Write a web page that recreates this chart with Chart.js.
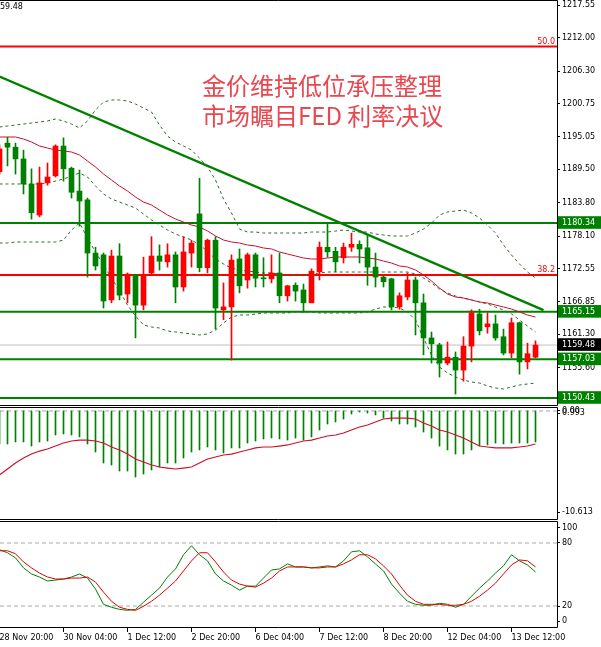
<!DOCTYPE html>
<html>
<head>
<meta charset="utf-8">
<script src="https://cdn.jsdelivr.net/npm/chart.js@4/dist/chart.umd.min.js"></script>
<style>
html, body { margin: 0; padding: 0; background: #fff; }
#wrap { position: relative; width: 601px; height: 647px; overflow: hidden; }
canvas { position: absolute; left: 0; }
#main { top: 0; }
#macd { top: 406px; }
#stoch { top: 521px; }
.note { position: absolute; left: 202px; color: #e9474f; font-family: "Noto Sans CJK SC"; font-size: 24px; line-height: 30px; white-space: nowrap; }
#info { position: absolute; left: 0; top: 2px; font: 8px "DejaVu Sans"; color: #000; }
</style>
</head>
<body>
<div id="wrap">
  <canvas id="main" width="601" height="406"></canvas>
  <canvas id="macd" width="601" height="115"></canvas>
  <canvas id="stoch" width="601" height="126"></canvas>
  <div id="info">59.48</div>
  <div class="note" style="top:70px">金价维持低位承压整理</div>
  <div class="note" style="top:100px">市场瞩目FED 利率决议</div>
</div>
<script>
// H4 bars, 28 Nov 20:00 .. 14 Dec 00:00
const open  = [1189.1,1194.0,1193.3,1191.3,1187.0,1181.7,1187.2,1188.4,1193.5,1189.7,1185.8,1184.3,1175.2,1174.9,1167.2,1174.7,1168.2,1171.5,1166.3,1171.8,1174.7,1173.7,1174.9,1169.4,1175.2,1181.9,1172.7,1177.4,1165.5,1166.0,1174.2,1170.6,1174.9,1170.9,1170.8,1171.8,1167.9,1169.7,1168.9,1166.7,1172.0,1176.2,1175.5,1174.4,1176.2,1176.7,1176.1,1172.8,1171.1,1170.8,1166.0,1167.7,1170.6,1166.7,1160.7,1159.5,1156.4,1157.4,1155.2,1159.3,1164.8,1162.6,1163.1,1160.9,1158.1,1163.3,1156.6,1157.4];
const high  = [1193.7,1195.0,1194.0,1192.8,1189.6,1189.9,1190.6,1193.7,1194.9,1189.9,1189.4,1184.6,1176.2,1175.2,1175.7,1176.8,1171.8,1171.6,1174.5,1178.0,1176.6,1176.8,1175.4,1178.0,1177.4,1188.0,1177.6,1178.0,1170.1,1174.9,1175.9,1175.2,1175.2,1174.4,1174.9,1175.2,1169.7,1170.1,1169.9,1172.5,1177.1,1180.3,1176.2,1176.9,1178.6,1177.3,1178.3,1175.2,1171.3,1170.9,1168.4,1171.8,1171.1,1168.2,1161.7,1159.8,1160.0,1158.3,1160.9,1165.5,1165.6,1165.0,1164.6,1162.2,1164.1,1163.4,1159.8,1160.2];
const low   = [1188.6,1190.1,1188.7,1185.3,1181.0,1181.4,1186.8,1188.2,1187.5,1184.6,1179.8,1171.1,1172.3,1165.8,1166.7,1167.2,1166.7,1160.7,1165.5,1171.5,1172.3,1172.8,1166.7,1168.7,1172.8,1172.0,1171.8,1162.2,1163.8,1156.9,1168.4,1169.2,1169.4,1169.4,1170.1,1166.7,1167.0,1167.0,1165.1,1166.7,1170.6,1174.5,1172.0,1173.5,1175.5,1173.5,1169.7,1169.4,1169.4,1165.5,1165.6,1167.2,1161.2,1157.8,1156.4,1154.0,1156.1,1151.1,1153.3,1156.6,1161.2,1161.5,1160.3,1157.8,1157.3,1154.5,1155.4,1157.3];
const close = [1193.0,1193.3,1191.3,1187.0,1182.1,1187.2,1188.2,1193.5,1189.6,1185.6,1184.1,1175.2,1173.0,1167.0,1174.7,1168.0,1171.6,1166.3,1171.5,1174.7,1173.8,1174.9,1169.4,1175.4,1176.9,1172.7,1177.4,1165.8,1166.0,1174.0,1169.6,1174.9,1170.9,1170.8,1171.8,1167.9,1169.6,1168.7,1166.7,1172.1,1176.2,1175.4,1173.7,1176.2,1176.7,1175.9,1172.8,1171.1,1170.3,1166.0,1167.9,1170.6,1166.7,1160.7,1159.7,1156.4,1157.4,1155.2,1159.3,1165.0,1161.9,1163.1,1160.7,1158.1,1163.3,1156.6,1158.0,1159.48];

// bands and moving average
const upperBand = [1196.75,1196.92,1197.09,1197.26,1197.43,1197.61,1197.78,1198.12,1197.78,1197.26,1196.58,1197.78,1199.66,1201.02,1201.37,1201.37,1201.20,1200.68,1200.00,1199.31,1197.09,1195.21,1194.19,1193.50,1192.82,1191.45,1189.91,1187.69,1184.44,1182.05,1179.31,1178.80,1178.80,1178.63,1178.63,1178.63,1178.63,1178.63,1178.63,1178.80,1178.80,1178.80,1178.97,1179.14,1178.97,1178.80,1178.80,1178.46,1178.29,1178.12,1178.12,1178.12,1178.63,1179.31,1180.34,1181.71,1182.22,1182.39,1182.56,1182.05,1181.20,1180.00,1178.63,1176.58,1174.87,1173.33,1171.96,1170.94];
const midBand   = [1187.01,1187.01,1187.01,1187.01,1187.01,1187.01,1187.18,1187.52,1187.86,1188.37,1188.89,1188.20,1186.67,1185.30,1184.44,1183.93,1183.42,1182.90,1181.88,1180.85,1180.00,1179.14,1178.46,1177.95,1177.43,1176.58,1175.55,1174.19,1173.33,1172.65,1172.31,1172.14,1171.96,1171.79,1171.79,1171.62,1171.45,1171.45,1171.45,1171.62,1171.79,1171.96,1171.96,1171.96,1171.96,1171.96,1171.96,1171.96,1171.96,1171.96,1171.96,1171.96,1171.62,1170.94,1170.08,1169.06,1168.37,1167.86,1167.52,1167.18,1166.84,1166.49,1165.98,1165.47,1164.78,1163.76,1162.73,1161.71];
const lowerBand = [1176.92,1176.92,1177.09,1177.09,1177.09,1177.09,1177.09,1177.09,1177.43,1179.14,1180.34,1177.78,1175.38,1173.16,1170.94,1168.72,1166.32,1164.44,1162.90,1162.56,1162.39,1161.88,1161.71,1161.54,1161.37,1161.20,1161.37,1162.05,1163.25,1164.27,1164.61,1164.61,1164.78,1164.96,1164.96,1164.96,1164.96,1165.13,1165.13,1165.13,1164.96,1164.96,1164.96,1164.96,1164.96,1164.96,1165.13,1165.64,1165.98,1165.98,1165.81,1165.13,1163.76,1160.68,1157.78,1155.72,1154.70,1154.02,1153.50,1153.16,1152.99,1152.48,1152.14,1151.96,1152.31,1152.65,1152.82,1152.99];
const maLine    = [1195.04,1195.04,1195.04,1194.70,1194.19,1193.50,1193.16,1192.82,1192.65,1192.48,1191.96,1190.94,1189.91,1188.72,1187.69,1186.67,1185.81,1184.78,1183.93,1183.42,1182.56,1181.71,1181.02,1180.51,1180.00,1179.66,1178.97,1178.12,1177.43,1177.09,1176.92,1176.58,1176.41,1176.07,1175.90,1175.38,1175.04,1174.70,1174.36,1174.19,1174.19,1174.36,1174.53,1174.53,1174.53,1174.53,1174.36,1174.19,1173.84,1173.50,1172.99,1172.82,1172.31,1171.45,1170.43,1169.23,1168.20,1167.69,1167.52,1167.18,1166.84,1166.67,1166.32,1165.98,1165.64,1165.13,1164.61,1164.27];

const macdHist   = [-3.42,-3.42,-3.21,-3.21,-3.63,-3.21,-3.11,-2.49,-2.38,-2.49,-2.69,-3.42,-4.25,-5.39,-5.60,-6.22,-6.22,-6.84,-6.53,-6.11,-5.80,-5.39,-5.39,-4.87,-4.25,-4.04,-3.73,-4.04,-4.35,-3.83,-3.83,-3.32,-3.11,-2.90,-2.80,-2.90,-3.01,-2.80,-3.01,-2.69,-1.97,-1.35,-1.14,-0.83,-0.31,-0.10,-0.21,-0.41,-0.73,-1.04,-1.35,-1.35,-1.66,-2.18,-2.80,-3.63,-4.04,-4.46,-4.46,-4.04,-3.63,-3.52,-3.32,-3.42,-3.32,-3.32,-3.32,-3.21];
const macdSignal = [-6.63,-6.01,-5.39,-4.87,-4.46,-4.15,-3.94,-3.63,-3.32,-3.11,-3.01,-3.01,-3.11,-3.32,-3.73,-4.04,-4.46,-4.97,-5.28,-5.60,-5.80,-5.91,-6.01,-5.91,-5.80,-5.39,-4.97,-4.77,-4.56,-4.46,-4.25,-4.04,-3.83,-3.73,-3.73,-3.63,-3.52,-3.32,-3.11,-3.01,-2.80,-2.59,-2.49,-2.28,-1.97,-1.66,-1.45,-1.14,-0.83,-0.73,-0.73,-0.73,-0.83,-1.24,-1.55,-1.97,-2.18,-2.49,-2.80,-3.21,-3.63,-3.73,-3.83,-3.83,-3.83,-3.73,-3.63,-3.42];

const stochMain   = [73.6,70.7,65.9,56.3,50.5,47.6,43.8,44.7,45.7,47.6,50.5,46.6,36.1,21.6,18.8,16.8,15.9,16.8,23.6,30.3,37.0,47.6,55.3,68.8,77.4,68.8,63.0,50.5,43.8,39.9,35.1,38.9,38.9,46.6,54.3,55.3,60.1,57.2,57.2,56.3,57.2,58.2,57.2,63.0,71.6,72.6,66.8,60.1,53.4,40.9,32.2,24.5,21.6,20.7,20.7,22.6,21.6,18.8,21.6,29.3,37.0,43.8,51.4,58.2,68.8,63.0,59.1,52.4];
const stochSignal = [72.6,72.6,69.7,62.0,56.3,51.4,47.6,45.7,45.7,46.6,46.6,47.6,42.8,33.2,24.5,18.8,16.8,15.9,19.7,24.5,30.3,37.0,43.8,53.4,63.0,70.7,70.7,62.0,52.4,44.7,40.9,38.9,38.0,41.8,46.6,53.4,57.2,57.2,57.2,56.3,56.3,57.2,57.2,60.1,63.9,68.8,68.8,64.9,58.2,50.5,39.9,30.3,24.5,21.6,21.6,21.6,20.7,20.7,21.6,24.5,29.3,35.1,41.8,50.5,59.1,63.9,63.0,57.2];

const priceTicks = [1217.55, 1212.00, 1206.30, 1200.75, 1195.05, 1189.50, 1183.80, 1178.10, 1172.55, 1166.85, 1161.30, 1155.60];
const supportLevels = [1180.34, 1165.15, 1157.03, 1150.43];
const lastPrice = 1159.48;
const fibLevels = [1210.51, 1171.45];
const fibNames = ['50.0', '38.2'];
const trendLine = [{ x: 0, y: 1205.38 }, { x: 68, y: 1165.44 }];

const timeTickIdx = [0, 8, 16, 24, 32, 40, 48, 56, 64];
const timeLabels = ['28 Nov 20:00', '30 Nov 04:00', '1 Dec 12:00', '2 Dec 20:00', '6 Dec 04:00', '7 Dec 12:00', '8 Dec 20:00', '12 Dec 04:00', '13 Dec 12:00'];

const macdTickVals = [0.05, -0.21, -10.47];
const macdTickText = ['0.00', '0.993', '-10.613'];
const stochTickVals = [94.3, 80, 20, 5.7];
const stochTickText = ['100', '80', '20', '0'];
const stochLevels = [80, 20];

const X_MIN = 0.0625, X_MAX = 69.6875;
const UP = '#ff0000', DOWN = '#008000';

Chart.defaults.font.family = 'DejaVu Sans';
Chart.defaults.font.size = 8;
Chart.defaults.color = '#000';

const candleColor = close.map((c, i) => c >= open[i] ? UP : DOWN);
const pts = arr => arr.map((v, i) => ({ x: i, y: v }));

function hline(v, color, width, dash) {
  return {
    type: 'line', data: [{ x: X_MIN, y: v }, { x: X_MAX, y: v }],
    borderColor: color, borderWidth: width, borderDash: dash || [],
    pointRadius: 0, order: 10
  };
}

function xScale(show) {
  return {
    type: 'linear', min: X_MIN, max: X_MAX, bounds: 'data', offset: false, display: show,
    afterBuildTicks: s => { s.ticks = timeTickIdx.map(v => ({ value: v })); },
    afterFit: s => { s.paddingLeft = 0; s.paddingRight = 0; if (show) s.height = 20; },
    ticks: { autoSkip: false, maxRotation: 0, align: 'start', padding: 1, callback: (v, i) => timeLabels[i] },
    grid: { offset: false, drawOnChartArea: false, drawTicks: true, tickLength: 5, color: '#000' },
    border: { display: false }
  };
}

function yScale(min, max, vals, text, tickOpts) {
  return {
    position: 'right', min: min, max: max, bounds: 'data',
    afterBuildTicks: s => { s.ticks = vals.map(v => ({ value: v })); },
    afterFit: s => { s.width = 44; s.paddingTop = 0; s.paddingBottom = 0; },
    ticks: Object.assign({ autoSkip: false, padding: 2, callback: (v, i) => text[i] }, tickOpts || {}),
    grid: { drawOnChartArea: false, drawTicks: true, tickLength: 3, color: '#000' },
    border: { display: false }
  };
}

// panel frame: top, right and bottom edges
const frame = {
  id: 'frame',
  afterDraw(chart) {
    const { ctx, chartArea: a } = chart;
    const t = Math.round(a.top) - 0.5, b = Math.round(a.bottom) + 0.5, r = Math.round(a.right) + 0.5;
    ctx.save();
    ctx.strokeStyle = '#000';
    ctx.lineWidth = 1;
    ctx.beginPath();
    ctx.moveTo(0, t); ctx.lineTo(r, t); ctx.lineTo(r, b); ctx.lineTo(0, b);
    ctx.stroke();
    ctx.restore();
  }
};

// fibo level captions at the right end of their lines
const fibText = {
  id: 'fibText',
  afterDatasetsDraw(chart) {
    const { ctx, chartArea: a, scales } = chart;
    ctx.save();
    ctx.fillStyle = '#ff0000';
    ctx.font = '8px "DejaVu Sans"';
    ctx.textAlign = 'right';
    ctx.textBaseline = 'bottom';
    fibLevels.forEach((v, i) => ctx.fillText(fibNames[i], a.right - 2, scales.y.getPixelForValue(v) - 1));
    ctx.restore();
  }
};

const common = {
  responsive: false, animation: false,
  plugins: { legend: { display: false }, tooltip: { enabled: false } }
};

// main price panel
const mainTicks = priceTicks.concat(supportLevels, [lastPrice]);
const boxed = new Set(supportLevels.concat([lastPrice]));
new Chart(document.getElementById('main'), {
  type: 'bar',
  data: {
    datasets: [
      ...supportLevels.map(v => hline(v, '#008000', 2)),
      hline(lastPrice, '#c0c0c0', 1),
      ...fibLevels.map(v => hline(v, '#ff0000', 2)),
      { type: 'line', data: pts(upperBand), borderColor: '#2d6b2d', borderWidth: 1, borderDash: [3, 3], pointRadius: 0, order: 6 },
      { type: 'line', data: pts(midBand), borderColor: '#2d6b2d', borderWidth: 1, borderDash: [3, 3], pointRadius: 0, order: 6 },
      { type: 'line', data: pts(lowerBand), borderColor: '#2d6b2d', borderWidth: 1, borderDash: [3, 3], pointRadius: 0, order: 6 },
      { type: 'line', data: pts(maLine), borderColor: '#c8102e', borderWidth: 1, pointRadius: 0, order: 5 },
      { data: low.map((l, i) => ({ x: i, y: [l, high[i]] })), backgroundColor: candleColor, barThickness: 1, grouped: false, order: 3 },
      { data: open.map((o, i) => ({ x: i, y: [o, close[i]] })), backgroundColor: candleColor, barThickness: 5, minBarLength: 1, grouped: false, order: 2 },
      { type: 'line', data: trendLine, borderColor: '#008000', borderWidth: 2.5, pointRadius: 0, order: 0 }
    ]
  },
  options: Object.assign({}, common, {
    layout: { padding: { top: 1, bottom: 1, left: 0, right: 0 } },
    scales: {
      x: xScale(false),
      y: yScale(1149.23, 1218.29, mainTicks, mainTicks.map(v => v.toFixed(2)), {
        showLabelBackdrop: true,
        backdropPadding: { left: 5, right: 6, top: 2, bottom: 1 },
        backdropColor: c => !boxed.has(c.tick.value) ? 'rgba(0,0,0,0)' : (c.tick.value === lastPrice ? '#000' : '#008000'),
        color: c => boxed.has(c.tick.value) ? '#fff' : '#000'
      })
    }
  }),
  plugins: [frame, fibText]
});

// MACD panel
new Chart(document.getElementById('macd'), {
  type: 'bar',
  data: {
    datasets: [
      hline(0, '#a8a8a8', 1, [4, 3]),
      { data: pts(macdHist), backgroundColor: '#008000', barThickness: 1, grouped: false, order: 3 },
      { type: 'line', data: pts(macdSignal), borderColor: '#d0102a', borderWidth: 1.2, pointRadius: 0, order: 1 }
    ]
  },
  options: Object.assign({}, common, {
    layout: { padding: { top: 2, bottom: 2, left: 0, right: 0 } },
    scales: { x: xScale(false), y: yScale(-11.19, 0.31, macdTickVals, macdTickText) }
  }),
  plugins: [frame]
});

// stochastic panel
new Chart(document.getElementById('stoch'), {
  type: 'line',
  data: {
    datasets: [
      ...stochLevels.map(v => hline(v, '#a8a8a8', 1, [4, 3])),
      { data: pts(stochMain), borderColor: '#008000', borderWidth: 1, pointRadius: 0, order: 2 },
      { data: pts(stochSignal), borderColor: '#e00000', borderWidth: 1, pointRadius: 0, order: 1 }
    ]
  },
  options: Object.assign({}, common, {
    layout: { padding: { top: 1, bottom: 0, left: 0, right: 0 } },
    scales: { x: xScale(true), y: yScale(0, 100, stochTickVals, stochTickText) }
  }),
  plugins: [frame]
});
</script>
</body>
</html>
